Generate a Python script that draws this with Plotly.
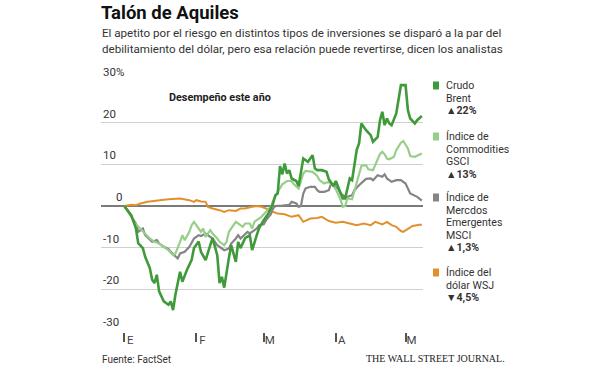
import plotly.graph_objects as go

# ---------------- data ----------------
brent_dates = ["2016-01-01","2016-01-04","2016-01-06","2016-01-07","2016-01-09","2016-01-10","2016-01-12","2016-01-13",
    "2016-01-14","2016-01-15","2016-01-16","2016-01-18","2016-01-20","2016-01-21","2016-01-22","2016-01-23","2016-01-25",
    "2016-01-26","2016-01-28","2016-01-30","2016-01-31","2016-02-02","2016-02-03","2016-02-04","2016-02-05","2016-02-07",
    "2016-02-08","2016-02-10","2016-02-11","2016-02-12","2016-02-13","2016-02-15","2016-02-16","2016-02-18","2016-02-19",
    "2016-02-20","2016-02-22","2016-02-24","2016-02-25","2016-02-27","2016-02-28","2016-03-01","2016-03-03","2016-03-05",
    "2016-03-06","2016-03-07","2016-03-08","2016-03-09","2016-03-10","2016-03-11","2016-03-12","2016-03-13","2016-03-15",
    "2016-03-16","2016-03-17","2016-03-18","2016-03-20","2016-03-21","2016-03-22","2016-03-23","2016-03-24","2016-03-26",
    "2016-03-28","2016-03-29","2016-03-31","2016-04-01","2016-04-03","2016-04-04","2016-04-05","2016-04-06","2016-04-07",
    "2016-04-08","2016-04-09","2016-04-10","2016-04-11","2016-04-12","2016-04-14","2016-04-16","2016-04-17","2016-04-19",
    "2016-04-20","2016-04-21","2016-04-22","2016-04-23","2016-04-24","2016-04-25","2016-04-27","2016-04-28","2016-04-29",
    "2016-05-01","2016-05-02","2016-05-03","2016-05-05","2016-05-06","2016-05-08"]
brent_vals = [0,-2.2,-5.3,-8.9,-10.1,-12.2,-14.9,-17.7,
    -18.5,-16.5,-20.5,-22.9,-23.7,-22.9,-25.0,-21.3,-15.8,
    -18.2,-15.3,-12.9,-10.1,-8.5,-11.0,-12.2,-13.0,-9.4,
    -7.7,-11.8,-18.5,-17.0,-19.6,-12.5,-9.4,-13.4,-8.6,
    -10.1,-7.7,-7.0,-10.6,-7.0,-5.3,-3.4,-1.8,0.6,
    2.6,3.0,9.6,7.6,10.2,7.8,8.6,6.6,6.0,
    4.8,8.2,11.4,10.6,11.4,12.2,9.0,8.6,8.6,
    8.2,6.4,4.8,6.0,3.2,1.8,1.8,4.5,6.6,
    6.2,10.5,13.5,15.0,19.8,18.2,17.0,15.4,16.6,
    20.6,22.6,19.4,21.0,19.8,19.4,22.2,25.4,29.0,
    29.0,23.0,21.0,19.8,20.6,21.6]

gsci_dates = ["2016-01-01","2016-01-04","2016-01-05","2016-01-07","2016-01-10","2016-01-12","2016-01-14","2016-01-16",
    "2016-01-19","2016-01-20","2016-01-22","2016-01-23","2016-01-25","2016-01-26","2016-01-27","2016-01-29","2016-01-30",
    "2016-01-31","2016-02-02","2016-02-03","2016-02-04","2016-02-05","2016-02-07","2016-02-08","2016-02-10","2016-02-11",
    "2016-02-13","2016-02-14","2016-02-15","2016-02-17","2016-02-18","2016-02-20","2016-02-21","2016-02-22","2016-02-24",
    "2016-02-25","2016-02-26","2016-02-27","2016-02-29","2016-03-02","2016-03-04","2016-03-05","2016-03-07","2016-03-09",
    "2016-03-11","2016-03-13","2016-03-14","2016-03-16","2016-03-18","2016-03-19","2016-03-21","2016-03-22","2016-03-24",
    "2016-03-25","2016-03-27","2016-03-29","2016-03-31","2016-04-01","2016-04-03","2016-04-04","2016-04-05","2016-04-06",
    "2016-04-08","2016-04-09","2016-04-10","2016-04-11","2016-04-12","2016-04-14","2016-04-15","2016-04-17","2016-04-18",
    "2016-04-20","2016-04-21","2016-04-22","2016-04-23","2016-04-24","2016-04-26","2016-04-27","2016-04-29","2016-04-30",
    "2016-05-02","2016-05-03","2016-05-05","2016-05-08"]
gsci_vals = [0,-2.2,-3.8,-5.0,-6.6,-7.8,-8.6,-9.0,
    -10.2,-10.6,-11.8,-11.4,-8.6,-7.0,-8.2,-6.2,-4.6,
    -3.8,-5.4,-6.2,-5.4,-7.4,-5.8,-6.6,-7.8,-8.6,
    -9.4,-8.6,-6.2,-4.6,-3.8,-4.6,-5.0,-4.2,-4.2,
    -5.4,-3.8,-3.4,-2.6,-1.4,-0.2,1.2,3.4,5.2,
    6.0,6.0,5.2,4.2,7.8,8.4,8.2,8.2,7.2,
    6.2,5.4,5.8,4.8,4.0,1.6,-0.2,0.0,1.8,
    1.6,3.6,5.4,7.6,9.6,9.8,8.8,8.6,10.0,
    12.5,13.0,12.4,11.4,11.2,11.8,13.4,15.2,15.6,
    13.8,12.0,11.8,12.6]

msci_dates = ["2016-01-01","2016-01-04","2016-01-05","2016-01-06","2016-01-07","2016-01-09","2016-01-10","2016-01-12",
    "2016-01-13","2016-01-15","2016-01-16","2016-01-18","2016-01-20","2016-01-21","2016-01-23","2016-01-24","2016-01-25",
    "2016-01-27","2016-01-29","2016-01-30","2016-01-31","2016-02-02","2016-02-03","2016-02-05","2016-02-06","2016-02-08",
    "2016-02-09","2016-02-10","2016-02-12","2016-02-13","2016-02-15","2016-02-16","2016-02-18","2016-02-19","2016-02-20",
    "2016-02-22","2016-02-23","2016-02-24","2016-02-26","2016-02-27","2016-02-28","2016-03-01","2016-03-02","2016-03-04",
    "2016-03-05","2016-03-06","2016-03-09","2016-03-12","2016-03-13","2016-03-15","2016-03-16","2016-03-17","2016-03-18",
    "2016-03-19","2016-03-21","2016-03-23","2016-03-24","2016-03-25","2016-03-27","2016-03-29","2016-03-30","2016-03-31",
    "2016-04-02","2016-04-03","2016-04-05","2016-04-06","2016-04-08","2016-04-09","2016-04-11","2016-04-14","2016-04-16",
    "2016-04-17","2016-04-19","2016-04-21","2016-04-22","2016-04-23","2016-04-25","2016-04-27","2016-04-29","2016-05-01",
    "2016-05-02","2016-05-03","2016-05-06","2016-05-08"]
msci_vals = [0,-2.6,-3.4,-4.2,-6.2,-5.4,-7.0,-8.2,
    -8.6,-8.2,-9.0,-9.8,-10.3,-11.0,-12.2,-12.6,-11.4,
    -11.0,-9.8,-8.6,-7.8,-7.0,-7.2,-6.6,-7.0,-7.8,
    -8.6,-9.4,-10.2,-10.6,-10.2,-9.0,-7.8,-7.0,-7.8,
    -6.6,-6.2,-6.6,-5.8,-5.4,-4.6,-4.4,-3.4,-2.0,
    -0.6,0.0,0.1,0.3,1.0,0.6,-0.2,0.0,3.0,
    4.2,4.6,4.6,3.8,3.4,3.4,3.8,5.4,5.0,
    4.2,3.0,2.2,2.2,2.6,3.8,5.0,6.5,6.6,
    6.2,7.4,7.0,7.6,6.6,5.8,6.2,6.2,5.4,
    4.2,3.0,2.2,1.3]

usd_dates = ["2016-01-01","2016-01-04","2016-01-06","2016-01-08","2016-01-11","2016-01-16","2016-01-20","2016-01-25",
    "2016-01-29","2016-01-31","2016-02-01","2016-02-03","2016-02-05","2016-02-06","2016-02-08","2016-02-11","2016-02-13",
    "2016-02-15","2016-02-18","2016-02-20","2016-02-22","2016-02-25","2016-02-27","2016-02-29","2016-03-02","2016-03-05",
    "2016-03-07","2016-03-10","2016-03-13","2016-03-16","2016-03-18","2016-03-21","2016-03-24","2016-03-26","2016-03-29",
    "2016-04-01","2016-04-04","2016-04-07","2016-04-10","2016-04-13","2016-04-16","2016-04-18","2016-04-21","2016-04-23",
    "2016-04-25","2016-04-27","2016-04-29","2016-04-30","2016-05-02","2016-05-04","2016-05-07","2016-05-08"]
usd_vals = [0,0.3,0.2,0.6,1.0,1.4,1.6,1.8,
    1.4,1.0,1.4,1.1,1.0,-0.2,-0.6,-1.0,-1.4,
    -1.0,-1.2,-0.6,-0.6,-0.2,0.0,-0.2,-0.6,-1.4,
    -1.8,-2.0,-2.6,-2.2,-3.8,-3.0,-2.9,-2.6,-3.6,
    -4.0,-3.8,-4.2,-4.6,-4.2,-4.6,-3.8,-4.4,-3.8,
    -4.6,-5.0,-6.0,-6.2,-5.4,-4.8,-4.5,-4.5]

series_names = ["Crudo Brent", "Índice de Commodities GSCI", "Índice de Mercdos Emergentes MSCI", "Índice del dólar WSJ"]
series_colors = ["#3f9a3a", "#97cf8a", "#858585", "#e0912b"]
series_widths = [2.6, 2.2, 2.2, 2.0]

legend_lines = [["Crudo", "Brent"],
                ["Índice de", "Commodities", "GSCI"],
                ["Índice de", "Mercdos", "Emergentes", "MSCI"],
                ["Índice del", "dólar WSJ"]]
legend_changes = ["▲22%", "▲13%", "▲1,3%", "▼4,5%"]

month_ticks = ["2016-01-01", "2016-02-01", "2016-03-01", "2016-04-01", "2016-05-01"]
month_labels = ["E", "F", "M", "A", "M"]
y_ticks = [30, 20, 10, 0, -10, -20, -30]
y_labels = ["30%", "20", "10", "\u2007\u20070", "-10", "-20", "-30"]

title = "Talón de Aquiles"
subtitle = ["El apetito por el riesgo en distintos tipos de inversiones se disparó a la par del",
            "debilitamiento del dólar, pero esa relación puede revertirse, dicen los analistas"]
inner_label = "Desempeño este año"
source = "Fuente: FactSet"
credit = "THE WALL STREET JOURNAL."

# ---------------- figure ----------------
FONT = "Roboto, Liberation Sans, sans-serif"
W, H = 600, 370
L, R, T, B = 101, 423, 80, 332   # plot area in window pixels

def px(x):
    return (x - L) / (R - L)

def py(y):
    return (B - y) / (B - T)

fig = go.Figure()
series = [(brent_dates, brent_vals), (gsci_dates, gsci_vals), (msci_dates, msci_vals), (usd_dates, usd_vals)]
for i in [3, 2, 1, 0]:
    d, v = series[i]
    fig.add_trace(go.Scatter(x=d, y=v, mode="lines", name=series_names[i],
                             line=dict(color=series_colors[i], width=series_widths[i]),
                             showlegend=False, hoverinfo="skip"))

def text(t, x, y, size, anchor="left", color="#333", family=FONT):
    return dict(text=t, x=px(x), y=py(y), xref="paper", yref="paper",
                xanchor=anchor, yanchor="middle", showarrow=False,
                font=dict(family=family, size=size, color=color))

ann = []
ann.append(text("<b>" + title + "</b>", 99, 13, 18.5, color="#111"))
for k, line in enumerate(subtitle):
    ann.append(text(line, 100, 33 + 15.5 * k, 11.6))
ann.append(text("<b>" + inner_label + "</b>", 167, 97, 10.8, color="#222"))
ann.append(text(source, 100, 359, 10))
ann.append(text(credit, 507, 358, 10, anchor="right", color="#222",
                family="Liberation Serif, DejaVu Serif, serif"))

shapes = []
starts = [85.5, 136.5, 197.5, 272.5]
step = 12.6
for i in range(4):
    y0 = starts[i]
    shapes.append(dict(type="rect", xref="paper", yref="paper",
                       x0=px(433), x1=px(439), y0=py(y0 - 4), y1=py(y0 + 4),
                       fillcolor=series_colors[i], line=dict(width=0)))
    lines = legend_lines[i] + ["<b>" + legend_changes[i] + "</b>"]
    for j, t in enumerate(lines):
        ann.append(text(t, 444, y0 + step * j, 10.6))

fig.update_layout(
    width=W, height=H,
    margin=dict(l=L, r=W - R, t=T, b=H - B, pad=0),
    paper_bgcolor="white", plot_bgcolor="white",
    annotations=ann, shapes=shapes, showlegend=False,
    xaxis=dict(type="date", range=["2015-12-22", "2016-05-08 12:00"],
               tickvals=month_ticks, ticktext=month_labels,
               ticks="outside", ticklen=9, tickwidth=1.5, tickcolor="#555",
               showgrid=False, zeroline=False, showline=False,
               ticklabelshift=6, ticklabelstandoff=-12,
               tickfont=dict(family=FONT, size=11.5, color="#444")),
    yaxis=dict(range=[-30.24, 30.24], tickvals=y_ticks, ticktext=y_labels,
               showgrid=True, gridcolor="#d0d0d0", gridwidth=1,
               zeroline=True, zerolinecolor="#7a7a7a", zerolinewidth=2,
               showline=False, ticks="",
               ticklabelposition="inside", ticklabelshift=-9, ticklabelstandoff=-1,
               ticklabeloverflow="allow",
               tickfont=dict(family=FONT, size=11.5, color="#333")),
)

fig.write_html("out.html", config={"displayModeBar": False},
               post_script="document.body.style.margin='0px';")
